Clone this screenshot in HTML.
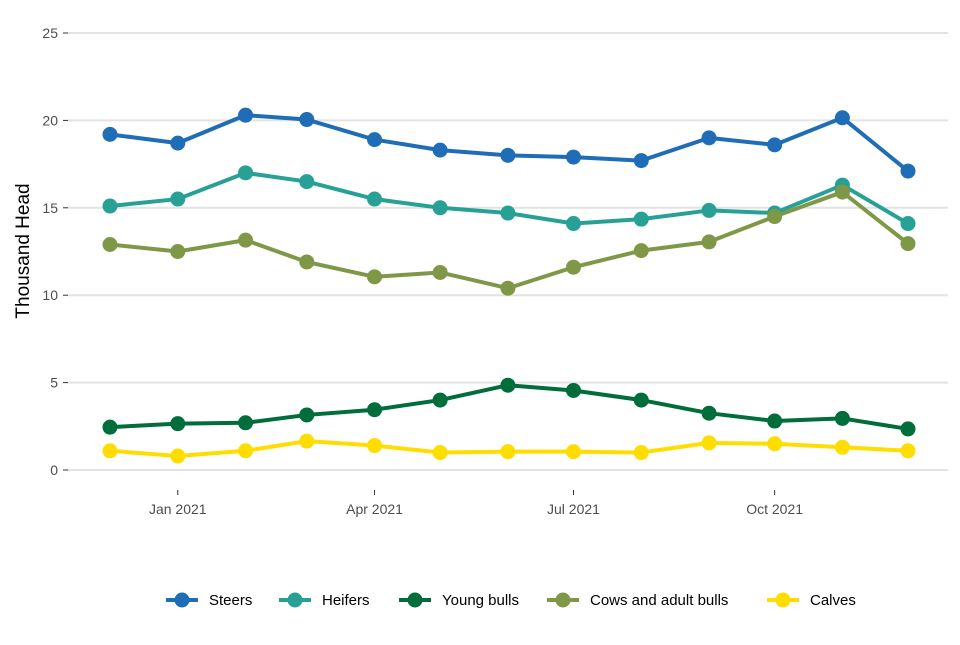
<!DOCTYPE html>
<html><head><meta charset="utf-8"><style>
body{margin:0;background:#fff;font-family:"Liberation Sans",Arial,sans-serif}
svg text{font-family:"Liberation Sans",Arial,sans-serif}
</style></head><body>
<svg id="chart" width="960" height="640"></svg>
<script>
const months=["2020-12","2021-01","2021-02","2021-03","2021-04","2021-05","2021-06","2021-07","2021-08","2021-09","2021-10","2021-11","2021-12"];
const seriesNames=["Steers","Heifers","Young bulls","Cows and adult bulls","Calves"];
const steers=[19.2,18.7,20.3,20.05,18.9,18.3,18.0,17.9,17.7,19.0,18.6,20.15,17.1];
const heifers=[15.1,15.5,17.0,16.5,15.5,15.0,14.7,14.1,14.35,14.85,14.7,16.3,14.1];
const youngBulls=[2.45,2.65,2.7,3.15,3.45,4.0,4.85,4.55,4.0,3.25,2.8,2.95,2.35];
const cows=[12.9,12.5,13.15,11.9,11.05,11.3,10.4,11.6,12.55,13.05,14.5,15.9,12.95];
const calves=[1.1,0.8,1.1,1.65,1.4,1.0,1.05,1.05,1.0,1.55,1.5,1.3,1.1];
const yTicks=[0,5,10,15,20,25];
const xTicks=["2021-01","2021-04","2021-07","2021-10"];
const xTickLabels=["Jan 2021","Apr 2021","Jul 2021","Oct 2021"];

const svg=document.getElementById('chart');
const NS="http://www.w3.org/2000/svg";
const colors=["#1f6db6","#27a095","#006d3a","#7f9848","#ffdd00"];
const data=[steers,heifers,youngBulls,cows,calves];
const t0=Date.parse(months[0]+"-01"), t1=Date.parse(months[months.length-1]+"-01");
const x=m=>110+(Date.parse(m+"-01")-t0)/(t1-t0)*798;
const y=v=>470-v*17.48;
function mk(tag,attrs){const e=document.createElementNS(NS,tag);for(const k in attrs)e.setAttribute(k,attrs[k]);svg.appendChild(e);return e;}
yTicks.forEach(v=>{
  const g=mk('line',{x1:68,x2:948,y1:y(v),y2:y(v),stroke:'#e3e3e3','stroke-width':2});
  
  
  const tk=mk('line',{x1:63,x2:68,y1:y(v),y2:y(v),stroke:'#333','stroke-width':1});
  
  
  const t=mk('text',{x:58,y:y(v)+5,'text-anchor':'end','font-size':14,fill:'#4d4d4d'});
  t.textContent=v;
  
  
});
xTicks.forEach((m,i)=>{
  const tk=mk('line',{x1:x(m),x2:x(m),y1:490,y2:495,stroke:'#333','stroke-width':1});
  
  
  const t=mk('text',{x:x(m),y:514,'text-anchor':'middle','font-size':14,fill:'#4d4d4d'});
  t.textContent=xTickLabels[i];
  
  
});
const yt=mk('text',{x:0,y:0,'text-anchor':'middle','font-size':19,fill:'#000',transform:'translate(29,251) rotate(-90)'});
yt.textContent="Thousand Head";


data.forEach((s,si)=>{
  const pl=mk('polyline',{points:s.map((v,i)=>x(months[i])+','+y(v)).join(' '),fill:'none',stroke:colors[si],'stroke-width':4,'stroke-linejoin':'round'});
  
  
  s.forEach((v,i)=>{
    const c=mk('circle',{cx:x(months[i]),cy:y(v),r:7.5,fill:colors[si]});
    
    
  });
});
const legX=[166,279,399,547,767];
seriesNames.forEach((n,i)=>{
  const l=mk('line',{x1:legX[i],x2:legX[i]+32,y1:600,y2:600,stroke:colors[i],'stroke-width':4});
  
  
  const c=mk('circle',{cx:legX[i]+16,cy:600,r:7.5,fill:colors[i]});
  
  
  const t=mk('text',{x:legX[i]+43,y:605,'font-size':15,fill:'#000'});
  t.textContent=n;
  
  
});
</script>
</body></html>
